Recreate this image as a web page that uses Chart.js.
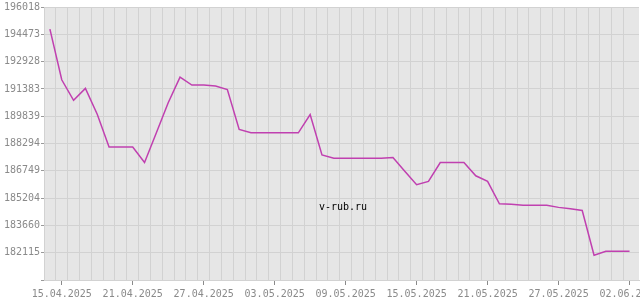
<!DOCTYPE html>
<html>
<head>
<meta charset="utf-8">
<script src="https://cdn.jsdelivr.net/npm/chart.js@4"></script>
<style>
  html, body { margin: 0; padding: 0; background: #fff; }
  #wrap { width: 640px; height: 300px; position: relative; }
</style>
</head>
<body>
<div id="wrap"><canvas id="chart" width="640" height="300"></canvas></div>
<script>
/** One entry per day, 14.04.2025 .. 02.06.2025 */
const dates = [
  '14.04.2025', '15.04.2025', '16.04.2025', '17.04.2025', '18.04.2025', '19.04.2025', '20.04.2025',
  '21.04.2025', '22.04.2025', '23.04.2025', '24.04.2025', '25.04.2025', '26.04.2025', '27.04.2025',
  '28.04.2025', '29.04.2025', '30.04.2025', '01.05.2025', '02.05.2025', '03.05.2025', '04.05.2025',
  '05.05.2025', '06.05.2025', '07.05.2025', '08.05.2025', '09.05.2025', '10.05.2025', '11.05.2025',
  '12.05.2025', '13.05.2025', '14.05.2025', '15.05.2025', '16.05.2025', '17.05.2025', '18.05.2025',
  '19.05.2025', '20.05.2025', '21.05.2025', '22.05.2025', '23.05.2025', '24.05.2025', '25.05.2025',
  '26.05.2025', '27.05.2025', '28.05.2025', '29.05.2025', '30.05.2025', '31.05.2025', '01.06.2025',
  '02.06.2025'
];
/** Daily values */
const rates = [
  194764, 191900, 190737, 191411, 189950, 188097, 188097, 188097, 187215, 188900,
  190600, 192046, 191600, 191600, 191550, 191350, 189091, 188900, 188900, 188900,
  188900, 188900, 189933, 187650, 187462, 187462, 187462, 187462, 187462, 187500,
  186720, 185962, 186148, 187215, 187215, 187215, 186468, 186148, 184878, 184860,
  184800, 184800, 184800, 184680, 184600, 184502, 181974, 182200, 182200, 182200
];
/** Y tick labels, top to bottom */
const yTicks = [196018, 194473, 192928, 191383, 189839, 188294, 186749, 185204, 183660, 182115];
/** Dates that get a label on the x axis */
const xLabelDates = ['15.04.2025', '21.04.2025', '27.04.2025', '03.05.2025', '09.05.2025',
  '15.05.2025', '21.05.2025', '27.05.2025', '02.06.2025'];

const yStep = (yTicks[0] - yTicks[yTicks.length - 1]) / (yTicks.length - 1);
const yMin = yTicks[yTicks.length - 1] - yStep;
const yMax = yTicks[0];

const font = { family: 'DejaVu Sans Mono', size: 10 };
const textColor = '#8a8a8a';
const gridColor = '#d2d2d2';

// plot background + watermark
const plotDecor = {
  id: 'plotDecor',
  beforeDraw: (chart) => {
    const { ctx, chartArea: a } = chart;
    ctx.save();
    ctx.fillStyle = '#e6e6e6';
    ctx.fillRect(a.left, a.top, a.right - a.left, a.bottom - a.top);
    ctx.restore();
  },
  beforeDatasetsDraw: (chart) => {
    const { ctx, chartArea: a } = chart;
    ctx.save();
    ctx.fillStyle = '#000';
    ctx.font = '10px "DejaVu Sans Mono"';
    ctx.textAlign = 'center';
    ctx.textBaseline = 'middle';
    ctx.fillText('v-rub.ru', (a.left + a.right) / 2 + 1.5, a.top + (a.bottom - a.top) * 0.735);
    ctx.restore();
  }
};

new Chart(document.getElementById('chart'), {
  type: 'line',
  data: {
    datasets: [{
      data: rates.map((v, i) => ({ x: i, y: v })),
      borderColor: '#c040b0',
      borderWidth: 1.5,
      pointRadius: 0,
      tension: 0,
      fill: false,
      xAxisID: 'x',
      yAxisID: 'y'
    }]
  },
  options: {
    responsive: false,
    animation: false,
    layout: { padding: { top: 5, right: 1, bottom: 0, left: 0 } },
    plugins: {
      legend: { display: false },
      tooltip: { enabled: false }
    },
    scales: {
      // gridlines between days
      x: {
        type: 'linear',
        position: 'bottom',
        weight: 0,
        min: -0.5,
        max: 49.8,
        afterBuildTicks: (axis) => {
          axis.ticks = dates.map((d, i) => ({ value: i - 0.5 }));
        },
        afterFit: (axis) => {
          axis.height = 0;
          axis.paddingLeft = 0;
          axis.paddingRight = 0;
        },
        grid: { color: gridColor, lineWidth: 1, drawTicks: false },
        border: { display: true, color: gridColor },
        ticks: { display: false }
      },
      // date labels + tick marks
      x2: {
        type: 'linear',
        position: 'bottom',
        weight: 1,
        min: -0.5,
        max: 49.8,
        afterBuildTicks: (axis) => {
          axis.ticks = xLabelDates.map(d => ({ value: dates.indexOf(d) }));
        },
        afterFit: (axis) => {
          axis.height = 20;
          axis.paddingLeft = 0;
          axis.paddingRight = 0;
        },
        grid: { drawOnChartArea: false, tickLength: 5, tickColor: textColor, color: textColor },
        border: { display: false },
        ticks: {
          autoSkip: false,
          maxRotation: 0,
          padding: 3,
          color: textColor,
          font: font,
          callback: (value) => dates[value]
        }
      },
      y: {
        type: 'linear',
        min: yMin,
        max: yMax,
        afterBuildTicks: (axis) => {
          axis.ticks = [yMin, ...yTicks.slice().reverse()].map(v => ({ value: v }));
        },
        afterFit: (axis) => { axis.width = 44; },
        grid: { color: gridColor, tickLength: 3, tickColor: '#999' },
        border: { display: true, color: gridColor },
        ticks: {
          padding: 1,
          color: textColor,
          font: font,
          callback: (value) => value === yMin ? '' : String(Math.round(value))
        }
      }
    }
  },
  plugins: [plotDecor]
});
</script>
</body>
</html>
